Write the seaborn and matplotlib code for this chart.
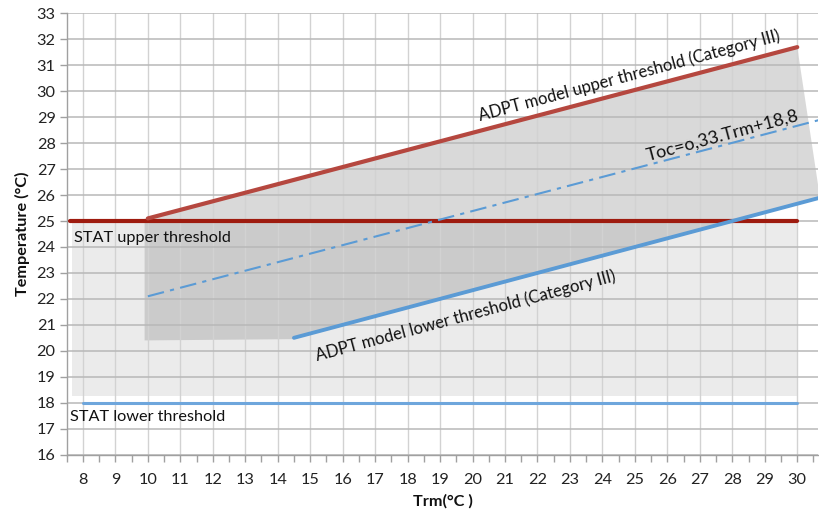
import matplotlib
matplotlib.use("Agg")
import matplotlib.pyplot as plt
import seaborn as sns
import numpy as np
import pandas as pd

# ---- data ----
x_ticks = list(range(8, 31))
y_ticks = list(range(16, 34))

stat_upper_x = [7.6, 30.0]
stat_upper_y = [25.0, 25.0]
stat_lower_x = [8.0, 30.0]
stat_lower_y = [18.0, 18.0]

adpt_upper_x = [10.0, 30.0]
adpt_upper_y = [25.1, 31.7]
adpt_lower_x = [14.5, 30.7]
adpt_lower_y = [20.5, 25.9]
toc_x = [10.0, 30.7]
toc_y = [22.1, 28.9]

# shaded zones
stat_zone_x = [7.65, 30.0]
stat_zone_low = [18.25, 18.25]
stat_zone_high = [25.0, 25.0]
adpt_zone_x = [9.9, 10.0, 30.0, 30.7, 14.5, 9.9]
adpt_zone_y = [25.1, 25.1, 31.7, 25.9, 20.45, 20.4]

sns.set_theme(style="white")
plt.rcParams['font.family'] = ['Lato', 'DejaVu Sans']

fig = plt.figure(figsize=(8.2, 5.13), dpi=100)
ax = fig.add_axes([0.0813, 0.1138, 0.9167, 0.8601])

# fills
ax.fill_between(stat_zone_x, stat_zone_low, stat_zone_high, color="#ebebeb", zorder=0.2, linewidth=0)
ax.fill(adpt_zone_x, adpt_zone_y, color="#7e7e7e", alpha=0.29, zorder=0.3, linewidth=0)

# lines
def line(xs, ys, color, lw, ls="-"):
    df = pd.DataFrame({"x": xs, "y": ys})
    sns.lineplot(data=df, x="x", y="y", ax=ax, color=color, linewidth=lw,
                 linestyle=ls, estimator=None, sort=False, zorder=3)

line(stat_upper_x, stat_upper_y, "#9e1b0f", 3.0)
line(stat_lower_x, stat_lower_y, "#6ea6dc", 2.2)
line(adpt_upper_x, adpt_upper_y, "#b5473f", 3.0)
line(adpt_lower_x, adpt_lower_y, "#5b9bd5", 2.8)
line(toc_x, toc_y, "#5b9bd5", 1.5, ls=(0, (8, 3, 2, 3)))

ax.set_xlim(7.5, 30.65)
ax.set_ylim(16, 33)
ax.set_xticks(x_ticks)
ax.set_xticklabels([str(v) for v in x_ticks])
ax.set_xticks(np.arange(7.5, 31.0, 1.0), minor=True)
ax.set_yticks(y_ticks)
ax.set_yticklabels([str(v) for v in y_ticks])

ax.grid(True, axis="y", color="#b8b8b8", linewidth=1.1, zorder=0.5)
ax.grid(True, axis="x", which="major", color="#d2d2d2", linewidth=1.0, zorder=0.5)
ax.set_axisbelow(True)

for s in ["top", "right"]:
    ax.spines[s].set_visible(False)
for s in ["left", "bottom"]:
    ax.spines[s].set_color("#a0a0a0")
    ax.spines[s].set_linewidth(1.0)

ax.tick_params(axis="both", which="both", direction="out", color="#a0a0a0",
               length=5, width=1, labelsize=11.7, labelcolor="#222222")
ax.tick_params(axis="x", which="major", pad=8, bottom=True)
ax.tick_params(axis="x", which="minor", bottom=True, length=5)
ax.tick_params(axis="y", left=True, pad=3)

ax.set_xlabel("Trm(°C )", fontsize=11.7, fontweight="bold", labelpad=5, color="#111111")
ax.set_ylabel("Temperature (°C)", fontsize=11.7, fontweight="bold", labelpad=5, color="#111111")

# annotations
ax.text(7.73, 24.35, "STAT upper threshold", fontsize=11.7, va="center", ha="left", color="#111111", zorder=4)
ax.text(7.6, 17.45, "STAT lower threshold", fontsize=11.7, va="center", ha="left", color="#111111", zorder=4)
ax.text(24.84, 30.59, "ADPT model upper threshold (Category III)", fontsize=12, rotation=15,
        ha="center", va="center", rotation_mode="anchor", color="#111111", zorder=4)
ax.text(27.7, 28.3, "Toc=o,33.Trm+18,8", fontsize=13, rotation=15,
        ha="center", va="center", rotation_mode="anchor", color="#111111", zorder=4)
ax.text(19.8, 21.34, "ADPT model lower threshold (Category III)", fontsize=12, rotation=15,
        ha="center", va="center", rotation_mode="anchor", color="#111111", zorder=4)

fig.savefig("out.png", dpi=100)
